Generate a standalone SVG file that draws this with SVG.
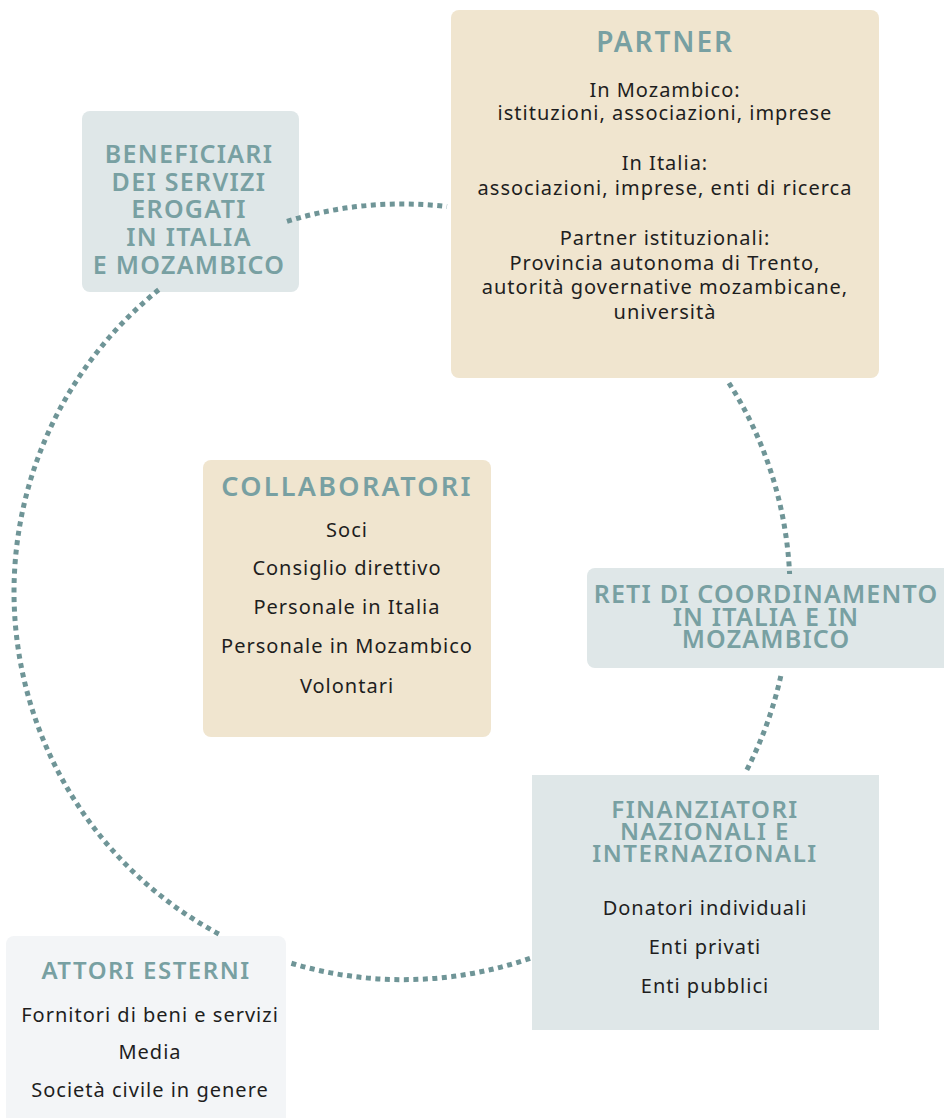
<svg xmlns="http://www.w3.org/2000/svg" width="944" height="1118" viewBox="0 0 944 1118">
<style>
.beige{fill:#f0e5cf}
.blue{fill:#dfe7e8}
.grey{fill:#f3f5f7}
.title{font-family:"Noto Sans","DejaVu Sans",sans-serif;font-weight:600;fill:#78a0a2;text-anchor:middle;font-size:25px;letter-spacing:1.3px}
.t24{font-size:24px;letter-spacing:1.5px}
.body{font-family:"Noto Sans","DejaVu Sans",sans-serif;fill:#1e1e1e;text-anchor:middle;font-size:20px;letter-spacing:1px}
.conn{fill:none;stroke:#6f9597;stroke-width:5;stroke-dasharray:5 4.5}
</style>
<rect width="944" height="1118" fill="#ffffff"/>
<g id="partner">
<rect class="beige" x="451" y="10" width="428" height="368" rx="8"/>
<text class="title" x="665" y="52" style="font-size:28px;letter-spacing:1.9px">PARTNER</text>
<text class="body" x="665" y="97">In Mozambico:</text>
<text class="body" x="665" y="120">istituzioni, associazioni, imprese</text>
<text class="body" x="665" y="170">In Italia:</text>
<text class="body" x="665" y="195">associazioni, imprese, enti di ricerca</text>
<text class="body" x="665" y="245">Partner istituzionali:</text>
<text class="body" x="665" y="270">Provincia autonoma di Trento,</text>
<text class="body" x="665" y="294">autorità governative mozambicane,</text>
<text class="body" x="665" y="319">università</text>
</g>
<g id="beneficiari">
<rect class="blue" x="82" y="111" width="217" height="181" rx="8"/>
<text class="title" x="189" y="163">BENEFICIARI</text>
<text class="title" x="189" y="191">DEI SERVIZI</text>
<text class="title" x="189" y="218">EROGATI</text>
<text class="title" x="189" y="246">IN ITALIA</text>
<text class="title" x="189" y="274">E MOZAMBICO</text>
</g>
<g id="collaboratori">
<rect class="beige" x="203" y="460" width="288" height="277" rx="8"/>
<text class="title" x="347" y="496" style="font-size:27px;letter-spacing:2.3px">COLLABORATORI</text>
<text class="body" x="347" y="537">Soci</text>
<text class="body" x="347" y="575">Consiglio direttivo</text>
<text class="body" x="347" y="614">Personale in Italia</text>
<text class="body" x="347" y="653">Personale in Mozambico</text>
<text class="body" x="347" y="693">Volontari</text>
</g>
<g id="reti">
<rect class="blue" x="587" y="568" width="367" height="100" rx="8"/>
<text class="title" x="766" y="603" style="letter-spacing:1.2px">RETI DI COORDINAMENTO</text>
<text class="title" x="766" y="626" style="letter-spacing:1.2px">IN ITALIA E IN</text>
<text class="title" x="766" y="648" style="letter-spacing:1.2px">MOZAMBICO</text>
</g>
<g id="finanziatori">
<rect class="blue" x="532" y="775" width="347" height="255"/>
<text class="title t24" x="705" y="818">FINANZIATORI</text>
<text class="title t24" x="705" y="840">NAZIONALI E</text>
<text class="title t24" x="705" y="862">INTERNAZIONALI</text>
<text class="body" x="705" y="915">Donatori individuali</text>
<text class="body" x="705" y="954">Enti privati</text>
<text class="body" x="705" y="993">Enti pubblici</text>
</g>
<g id="attori">
<path class="grey" d="M14,936 H278 A8,8 0 0 1 286,944 V1118 H6 V944 A8,8 0 0 1 14,936 Z"/>
<text class="title t24" x="146" y="979">ATTORI ESTERNI</text>
<text class="body" x="150" y="1022">Fornitori di beni e servizi</text>
<text class="body" x="150" y="1059">Media</text>
<text class="body" x="150" y="1097">Società civile in genere</text>
</g>
<g id="connectors">
<path class="conn" d="M287,221.4 A388,388 0 0 1 447,206.6"/>
<path class="conn" d="M728.9,383 A388,388 0 0 1 789.6,574"/>
<path class="conn" d="M780.8,676 A388,388 0 0 1 745.7,772"/>
<path class="conn" d="M530,958.3 A388,388 0 0 1 288,962.2"/>
<path class="conn" d="M218.8,934 A388,388 0 0 1 160.9,288"/>
</g>
</svg>
